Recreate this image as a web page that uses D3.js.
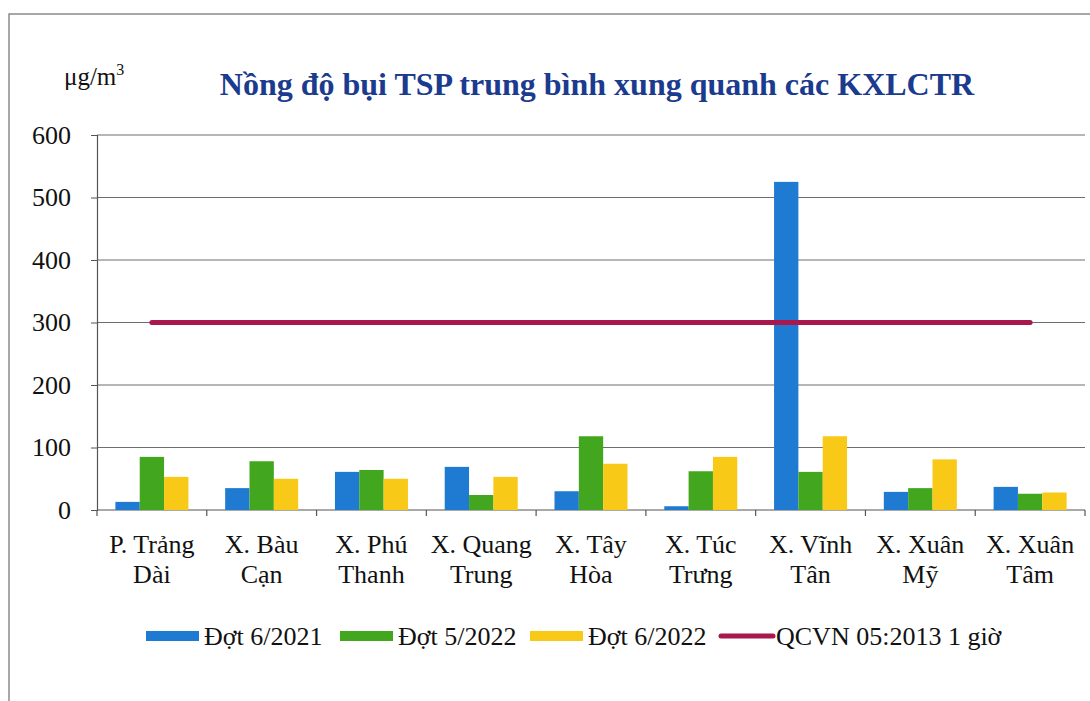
<!DOCTYPE html>
<html>
<head>
<meta charset="utf-8">
<script src="https://cdn.jsdelivr.net/npm/d3@7"></script>
<style>
  body { margin: 0; background: #fff; }
  svg text { font-family: "Liberation Serif", "DejaVu Serif", serif; fill: #111; }
</style>
</head>
<body>
<svg id="chart" width="1090" height="701"></svg>
<script>
// data ************************************************************
var categories = [
  ["P. Trảng", "Dài"], ["X. Bàu", "Cạn"], ["X. Phú", "Thanh"],
  ["X. Quang", "Trung"], ["X. Tây", "Hòa"], ["X. Túc", "Trưng"],
  ["X. Vĩnh", "Tân"], ["X. Xuân", "Mỹ"], ["X. Xuân", "Tâm"]
];
var seriesNames = ["Đợt 6/2021", "Đợt 5/2022", "Đợt 6/2022"];
var dot2021 = [13, 35, 61, 69, 30, 6, 525, 29, 37];
var dot052022 = [85, 78, 64, 24, 118, 62, 61, 35, 26];
var dot062022 = [53, 50, 50, 53, 74, 85, 118, 81, 28];
var limitName = "QCVN 05:2013 1 giờ";
var limitValue = 300;
var yTicks = [0, 100, 200, 300, 400, 500, 600];
var colors = ["#1f7ad2", "#42a61f", "#f8c916"];

var seriesValues = [dot2021, dot052022, dot062022];

// scales ************************************************************
var svg = d3.select("#chart");
var plotL = 97, plotR = 1085, plotT = 135, plotB = 510;
var serif = "Liberation Serif";

var x = d3.scaleBand()
  .domain(d3.range(categories.length))
  .range([plotL, plotR]);

var groupW = 73;
var xs = d3.scaleBand()
  .domain(d3.range(seriesNames.length))
  .range([(x.bandwidth() - groupW) / 2, (x.bandwidth() + groupW) / 2]);

var y = d3.scaleLinear().domain([0, 600]).range([plotB, plotT]);

// frame
svg.append("path")
  .attr("d", "M9,701 L9,14 L1090,14")
  .attr("fill", "none")
  .attr("stroke", "#8a8a8a")
  .attr("stroke-width", 1.5);

// gridlines + y axis *************************************************
svg.append("g")
  .selectAll("line")
  .data(yTicks.slice(1))
  .enter().append("line")
  .attr("x1", plotL).attr("x2", plotR)
  .attr("y1", function(d) { return y(d); })
  .attr("y2", function(d) { return y(d); })
  .attr("stroke", "#6e6e6e")
  .attr("stroke-width", 1.2);

var yAxis = svg.append("g")
  .attr("transform", "translate(" + plotL + ",0)")
  .call(d3.axisLeft(y).tickValues(yTicks).tickSize(6).tickPadding(20));
yAxis.select(".domain").attr("stroke", "#555").attr("stroke-width", 1.2);
yAxis.selectAll(".tick line").attr("stroke", "#555");
yAxis.selectAll("text")
  .style("font-family", serif)
  .style("font-size", "26px")
  .attr("fill", "#111");

// x axis
svg.append("line")
  .attr("x1", plotL).attr("x2", plotR)
  .attr("y1", plotB).attr("y2", plotB)
  .attr("stroke", "#555").attr("stroke-width", 1.2);

svg.append("g")
  .selectAll("line")
  .data(d3.range(categories.length + 1))
  .enter().append("line")
  .attr("x1", function(i) { return i < categories.length ? x(i) : plotR; })
  .attr("x2", function(i) { return i < categories.length ? x(i) : plotR; })
  .attr("y1", plotB).attr("y2", plotB + 6)
  .attr("stroke", "#555").attr("stroke-width", 1.2);

// bars ************************************************************
var groups = svg.append("g")
  .selectAll("g")
  .data(categories)
  .enter().append("g")
  .attr("transform", function(d, i) { return "translate(" + x(i) + ",0)"; });

groups.selectAll("rect")
  .data(function(d, i) { return seriesValues.map(function(s, k) { return { k: k, v: s[i] }; }); })
  .enter().append("rect")
  .attr("x", function(d) { return xs(d.k); })
  .attr("width", xs.bandwidth())
  .attr("y", function(d) { return y(d.v); })
  .attr("height", function(d) { return plotB - y(d.v); })
  .attr("fill", function(d) { return colors[d.k]; });

// limit line
var lineGen = d3.line()
  .x(function(d) { return x(d) + x.bandwidth() / 2; })
  .y(function() { return y(limitValue); });

svg.append("path")
  .datum(d3.range(categories.length))
  .attr("d", lineGen)
  .attr("fill", "none")
  .attr("stroke", "#a8184c")
  .attr("stroke-width", 5)
  .attr("stroke-linecap", "round");

// category labels
var lab = svg.append("g")
  .selectAll("text")
  .data(categories)
  .enter().append("text")
  .attr("text-anchor", "middle")
  .style("font-family", serif)
  .style("font-size", "26px");
lab.append("tspan")
  .attr("x", function(d, i) { return x(i) + x.bandwidth() / 2; })
  .attr("y", 553)
  .text(function(d) { return d[0]; });
lab.append("tspan")
  .attr("x", function(d, i) { return x(i) + x.bandwidth() / 2; })
  .attr("y", 583)
  .text(function(d) { return d[1]; });

// titles
svg.append("text")
  .attr("x", 597).attr("y", 95)
  .attr("text-anchor", "middle")
  .style("font-family", serif)
  .style("font-size", "32px")
  .style("font-weight", "bold")
  .style("fill", "#1b3b8e")
  .text("Nồng độ bụi TSP trung bình xung quanh các KXLCTR");

var unit = svg.append("text")
  .attr("x", 64).attr("y", 85)
  .style("font-family", serif)
  .style("font-size", "25px")
  .text("μg/m");
unit.append("tspan").attr("dy", -10).style("font-size", "16px").text("3");

// legend ************************************************************
var legendX = [146, 340, 530];
var leg = svg.append("g")
  .selectAll("g")
  .data(seriesNames)
  .enter().append("g")
  .attr("transform", function(d, i) { return "translate(" + legendX[i] + ",636)"; });
leg.append("rect")
  .attr("x", 0).attr("y", -5)
  .attr("width", 53).attr("height", 10)
  .attr("fill", function(d, i) { return colors[i]; });
leg.append("text")
  .attr("x", 58).attr("y", 9)
  .style("font-family", serif)
  .style("font-size", "26px")
  .text(function(d) { return d; });

var legLine = svg.append("g").attr("transform", "translate(721,636)");
legLine.append("line")
  .attr("x1", 0).attr("x2", 52)
  .attr("y1", 0).attr("y2", 0)
  .attr("stroke", "#a8184c").attr("stroke-width", 5).attr("stroke-linecap", "round");
legLine.append("text")
  .attr("x", 55).attr("y", 9)
  .style("font-family", serif)
  .style("font-size", "26px")
  .text(limitName);
</script>
</body>
</html>
